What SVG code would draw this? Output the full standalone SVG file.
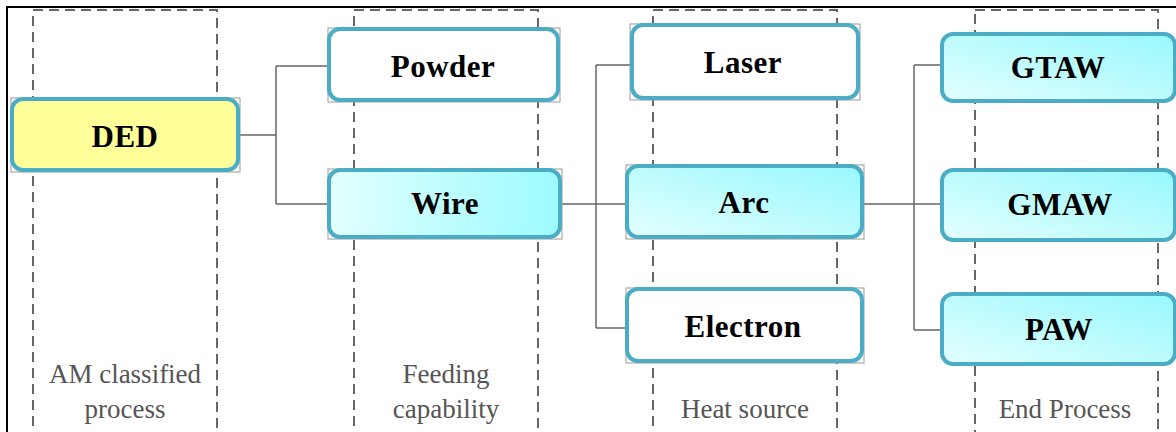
<svg xmlns="http://www.w3.org/2000/svg" width="1176" height="432" viewBox="0 0 1176 432">
<defs>
<linearGradient id="gH" x1="0" y1="0" x2="1" y2="0"><stop offset="0" stop-color="#e2ffff"/><stop offset="1" stop-color="#9cfbff"/></linearGradient>
<linearGradient id="gD" x1="0" y1="1" x2="1" y2="0"><stop offset="0" stop-color="#e4ffff"/><stop offset="1" stop-color="#97f8fd"/></linearGradient>
<style>
.col{fill:none;stroke:#666;stroke-width:2;stroke-dasharray:10 6}
.sh{fill:none;stroke:#999;stroke-width:1}
.box{stroke:#4bacc6;stroke-width:4}
.t{font-weight:bold;font-size:31px;fill:#000;text-anchor:middle;letter-spacing:0.5px}
.lab{font-size:27px;fill:#555;text-anchor:middle}
.con{fill:none;stroke:#666;stroke-width:1.5}
</style>
</defs>
<rect width="1176" height="432" fill="#fff"/>
<path d="M7,432 V7 H1176" fill="none" stroke="#000" stroke-width="2"/>
<g id="columns">
<rect class="col" x="33" y="10" width="184" height="440"/>
<rect class="col" x="354" y="10" width="184" height="440"/>
<rect class="col" x="653" y="10" width="184" height="440"/>
<rect class="col" x="975" y="10" width="183" height="440"/>
</g>
<g id="labels" font-family="'Liberation Serif', Tinos, 'Noto Serif', 'Nimbus Roman', FreeSerif, 'Times New Roman', 'DejaVu Serif', serif">
<text class="lab" x="125" y="383">AM classified</text>
<text class="lab" x="125" y="418">process</text>
<text class="lab" x="446" y="383">Feeding</text>
<text class="lab" x="446" y="418">capability</text>
<text class="lab" x="745" y="418">Heat source</text>
<text class="lab" x="1065" y="418">End Process</text>
</g>
<g id="connectors">
<path class="con" d="M240,135 H276 M276,66 V204 M276,66 H328 M276,204 H328"/>
<path class="con" d="M562,204 H626 M596,65 V328 M596,65 H630 M596,328 H626"/>
<path class="con" d="M864,204 H941 M914,65 V330 M914,65 H941 M914,330 H941"/>
</g>
<g font-family="'Liberation Serif', Tinos, 'Noto Serif', 'Nimbus Roman', FreeSerif, 'Times New Roman', 'DejaVu Serif', serif">
<g id="DED">
<rect class="sh" x="11" y="98" width="229" height="74"/>
<rect class="box" x="12" y="99" width="226" height="71" rx="11" fill="#ffff99"/>
<text class="t" x="125" y="147">DED</text>
</g>
<g id="Powder">
<rect class="sh" x="328" y="28" width="232" height="74"/>
<rect class="box" x="329" y="29" width="229" height="71" rx="11" fill="#fff"/>
<text class="t" x="443" y="77">Powder</text>
</g>
<g id="Wire">
<rect class="sh" x="328" y="169" width="234" height="70"/>
<rect class="box" x="329" y="170" width="231" height="67" rx="11" fill="url(#gH)"/>
<text class="t" x="445" y="214">Wire</text>
</g>
<g id="Laser">
<rect class="sh" x="630" y="24" width="230" height="76"/>
<rect class="box" x="632" y="25" width="226" height="73" rx="11" fill="#fff"/>
<text class="t" x="743" y="73">Laser</text>
</g>
<g id="Arc">
<rect class="sh" x="626" y="165" width="238" height="74"/>
<rect class="box" x="627" y="166" width="235" height="71" rx="11" fill="url(#gD)"/>
<text class="t" x="744" y="213">Arc</text>
</g>
<g id="Electron">
<rect class="sh" x="626" y="288" width="238" height="75"/>
<rect class="box" x="627" y="289" width="235" height="72" rx="11" fill="#fff"/>
<text class="t" x="743" y="337">Electron</text>
</g>
<g id="GTAW">
<rect class="box" x="942" y="34" width="233" height="67" rx="11" fill="url(#gD)"/>
<text class="t" x="1058" y="78">GTAW</text>
</g>
<g id="GMAW">
<rect class="box" x="942" y="170" width="233" height="70" rx="11" fill="url(#gD)"/>
<text class="t" x="1060" y="215">GMAW</text>
</g>
<g id="PAW">
<rect class="box" x="942" y="294" width="233" height="70" rx="11" fill="url(#gD)"/>
<text class="t" x="1059" y="340">PAW</text>
</g>
</g>
</svg>
